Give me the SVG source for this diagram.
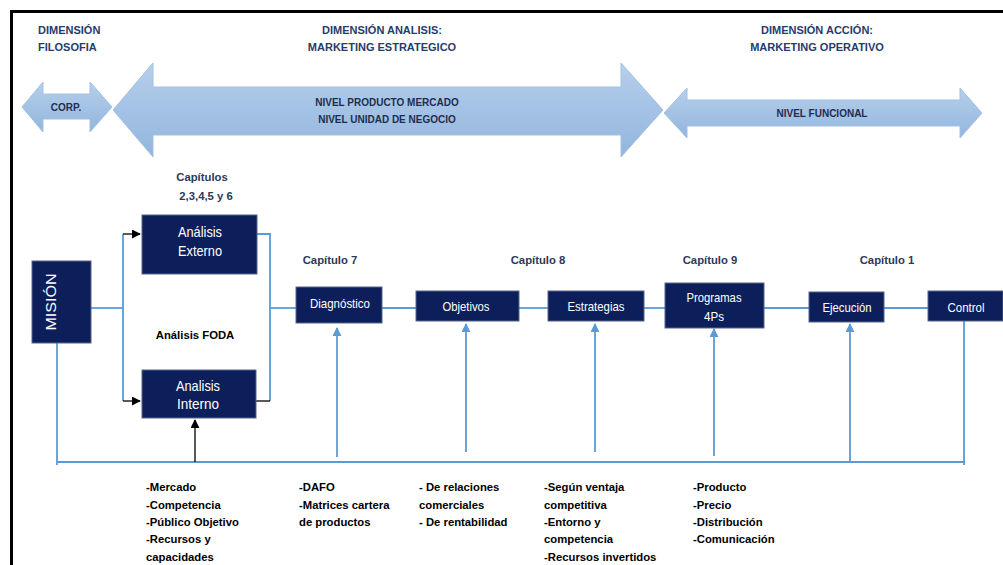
<svg xmlns="http://www.w3.org/2000/svg" width="1003" height="565" viewBox="0 0 1003 565">
<defs>
<linearGradient id="ag" x1="0" y1="0" x2="0" y2="1">
<stop offset="0" stop-color="#b6cfeb"/>
<stop offset="1" stop-color="#92b5de"/>
</linearGradient>
<marker id="ab" viewBox="0 0 10 10" refX="9" refY="5" markerWidth="9" markerHeight="9" markerUnits="userSpaceOnUse" orient="auto">
<path d="M0,0 L10,5 L0,10 z" fill="#5b9bd5"/>
</marker>
<marker id="ak" viewBox="0 0 10 10" refX="9" refY="5" markerWidth="9" markerHeight="9" markerUnits="userSpaceOnUse" orient="auto">
<path d="M0,0 L10,5 L0,10 z" fill="#000"/>
</marker>
</defs>
<style>
text{font-family:"Liberation Sans",Arial,sans-serif;}
.hd{font-size:11px;font-weight:bold;fill:#263c6a;}
.ar{font-size:10px;font-weight:bold;fill:#1f2d4d;text-anchor:middle;}
.ch{font-size:11.3px;font-weight:bold;fill:#2a3a5a;text-anchor:middle;}
.bt{font-size:11.3px;font-weight:bold;fill:#000;}
.box{fill:#0d1f5a;stroke:#56648a;stroke-width:1;}
.bx{font-size:13px;fill:#fff;text-anchor:middle;}
.bl{fill:none;stroke:#5b9bd5;stroke-width:1.8;}
.bk{fill:none;stroke:#000;stroke-width:1.3;}
.arrow{fill:url(#ag);stroke:#a4c0e3;stroke-width:1;}
</style>
<rect width="1003" height="565" fill="#fff"/>
<path d="M11.5,565 V11.5 H1003" fill="none" stroke="#000" stroke-width="3"/>

<g id="headers">
<text class="hd" x="38" y="34">DIMENSIÓN</text>
<text class="hd" x="38" y="51">FILOSOFIA</text>
<text class="hd" x="382" y="34" text-anchor="middle">DIMENSIÓN ANALISIS:</text>
<text class="hd" x="382" y="51" text-anchor="middle">MARKETING ESTRATEGICO</text>
<text class="hd" x="817" y="34" text-anchor="middle">DIMENSIÓN ACCIÓN:</text>
<text class="hd" x="817" y="51" text-anchor="middle">MARKETING OPERATIVO</text>
</g>

<g id="arrow-corp">
<polygon class="arrow" points="22,107 43,82 43,94 90,94 90,82 112,107 90,132 90,119 43,119 43,132"/>
<text class="ar" x="66" y="111">CORP.</text>
</g>
<g id="arrow-producto">
<polygon class="arrow" points="113,110 153,63 153,87 621,87 621,63 663,110 621,157 621,135 153,135 153,157"/>
<text class="ar" x="387" y="106">NIVEL PRODUCTO MERCADO</text>
<text class="ar" x="387" y="123">NIVEL UNIDAD DE NEGOCIO</text>
</g>
<g id="arrow-funcional">
<polygon class="arrow" points="664,113 687,88 687,100 960,100 960,88 982,113 960,138 960,126 687,126 687,138"/>
<text class="ar" x="822" y="117">NIVEL FUNCIONAL</text>
</g>

<g id="chapters">
<text class="ch" x="202" y="181">Capítulos</text>
<text class="ch" x="206" y="200">2,3,4,5 y 6</text>
<text class="ch" x="330" y="264">Capítulo 7</text>
<text class="ch" x="538" y="264">Capítulo 8</text>
<text class="ch" x="710" y="264">Capítulo 9</text>
<text class="ch" x="887" y="264">Capítulo 1</text>
<text class="bt" x="195" y="339" text-anchor="middle">Análisis FODA</text>
</g>

<g id="connectors">
<path class="bl" d="M91,308 H123"/>
<path class="bl" d="M123,234 V401"/>
<path class="bk" d="M123,234 H140" marker-end="url(#ak)"/>
<path class="bk" d="M123,401 H140" marker-end="url(#ak)"/>
<path class="bl" d="M257,234 H270 V401"/>
<path class="bk" d="M256,401 H270"/>
<path class="bl" d="M270,308 H296"/>
<path class="bl" d="M382,308 H416"/>
<path class="bl" d="M519,308 H548"/>
<path class="bl" d="M644,308 H665"/>
<path class="bl" d="M764,308 H809"/>
<path class="bl" d="M884,308 H928"/>
<path class="bl" d="M57,343 V465"/>
<path class="bl" d="M57,462 H965"/>
<path class="bl" d="M964,321 V465"/>
<path class="bl" d="M337,457 V328" marker-end="url(#ab)"/>
<path class="bl" d="M466,452 V324" marker-end="url(#ab)"/>
<path class="bl" d="M595,452 V324" marker-end="url(#ab)"/>
<path class="bl" d="M714,456 V329" marker-end="url(#ab)"/>
<path class="bl" d="M850,462 V324" marker-end="url(#ab)"/>
<path class="bk" d="M195,462 V420" marker-end="url(#ak)"/>
</g>

<g id="mision">
<rect class="box" x="32" y="261" width="59" height="82"/>
<text x="0" y="0" transform="translate(56,302) rotate(-90)" font-size="15" fill="#fff" text-anchor="middle" textLength="57" lengthAdjust="spacingAndGlyphs">MISIÓN</text>
</g>
<g id="analisis-externo">
<rect class="box" x="142" y="215" width="115" height="59"/>
<text class="bx" x="200" y="237" textLength="44" lengthAdjust="spacingAndGlyphs" style="font-size:14.5px">Análisis</text>
<text class="bx" x="200" y="256" textLength="44" lengthAdjust="spacingAndGlyphs" style="font-size:14.5px">Externo</text>
</g>
<g id="analisis-interno">
<rect class="box" x="142" y="370" width="114" height="48"/>
<text class="bx" x="198" y="391" textLength="44" lengthAdjust="spacingAndGlyphs" style="font-size:14.5px">Analisis</text>
<text class="bx" x="198" y="409" textLength="42" lengthAdjust="spacingAndGlyphs" style="font-size:14.5px">Interno</text>
</g>
<g id="diagnostico">
<rect class="box" x="296" y="287" width="86" height="36"/>
<text class="bx" x="340" y="308" textLength="60" lengthAdjust="spacingAndGlyphs">Diagnóstico</text>
</g>
<g id="objetivos">
<rect class="box" x="416" y="291" width="103" height="30"/>
<text class="bx" x="466" y="311" textLength="47" lengthAdjust="spacingAndGlyphs">Objetivos</text>
</g>
<g id="estrategias">
<rect class="box" x="548" y="291" width="96" height="30"/>
<text class="bx" x="596" y="311" textLength="57" lengthAdjust="spacingAndGlyphs">Estrategias</text>
</g>
<g id="programas">
<rect class="box" x="665" y="283" width="99" height="45"/>
<text class="bx" x="714" y="302" textLength="55" lengthAdjust="spacingAndGlyphs">Programas</text>
<text class="bx" x="714" y="321" textLength="20" lengthAdjust="spacingAndGlyphs">4Ps</text>
</g>
<g id="ejecucion">
<rect class="box" x="809" y="292" width="75" height="30"/>
<text class="bx" x="847" y="312" textLength="49" lengthAdjust="spacingAndGlyphs">Ejecución</text>
</g>
<g id="control">
<rect class="box" x="928" y="291" width="75" height="30"/>
<text class="bx" x="966" y="312" textLength="37" lengthAdjust="spacingAndGlyphs">Control</text>
</g>

<g id="notes">
<text class="bt" x="146" y="491">-Mercado</text>
<text class="bt" x="146" y="509">-Competencia</text>
<text class="bt" x="146" y="526">-Público Objetivo</text>
<text class="bt" x="146" y="543">-Recursos y</text>
<text class="bt" x="146" y="561">capacidades</text>
<text class="bt" x="299" y="491">-DAFO</text>
<text class="bt" x="299" y="509">-Matrices cartera</text>
<text class="bt" x="299" y="526">de productos</text>
<text class="bt" x="419" y="491">- De relaciones</text>
<text class="bt" x="419" y="509">comerciales</text>
<text class="bt" x="419" y="526">- De rentabilidad</text>
<text class="bt" x="544" y="491">-Según ventaja</text>
<text class="bt" x="544" y="509">competitiva</text>
<text class="bt" x="544" y="526">-Entorno y</text>
<text class="bt" x="544" y="543">competencia</text>
<text class="bt" x="544" y="561">-Recursos invertidos</text>
<text class="bt" x="693" y="491">-Producto</text>
<text class="bt" x="693" y="509">-Precio</text>
<text class="bt" x="693" y="526">-Distribución</text>
<text class="bt" x="693" y="543">-Comunicación</text>
</g>
</svg>
